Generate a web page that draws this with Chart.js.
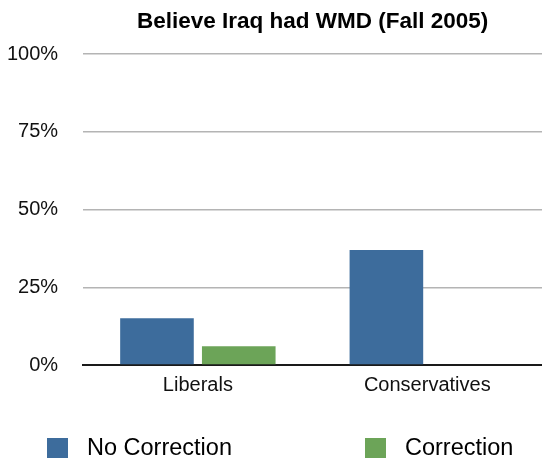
<!DOCTYPE html>
<html>
<head>
<meta charset="utf-8">
<title>Believe Iraq had WMD (Fall 2005)</title>
<script src="https://cdn.jsdelivr.net/npm/chart.js@4/dist/chart.umd.min.js"></script>
<style>
  html, body { margin: 0; padding: 0; background: #fff; }
  #wrap { width: 542px; height: 458px; }
</style>
</head>
<body>
<div id="wrap"><canvas id="wmdChart" width="542" height="458"></canvas></div>
<script>
'use strict';

/* #################### global variables #################### */
let groups = ['Liberals', 'Conservatives'];
let seriesNames = ['No Correction', 'Correction'];
let noCorrection = [15, 37]; //  percent who believe, no correction shown
let correction = [6, 0]; //  percent who believe, after correction
let yTicks = [0, 25, 50, 75, 100];

let seriesColors = ['rgb(61, 108, 156)', 'rgb(108, 164, 88)'];
let fontFamily = '"Liberation Sans", Arial, Helvetica, sans-serif';

/* draws the legend row at the bottom (squares + names) */
let bottomLegend = {
  id: 'bottomLegend',
  afterDraw(chart) {
    let ctx = chart.ctx;
    let xs = [47, 365];
    let midY = 448;
    ctx.save();
    ctx.font = '23.5px ' + fontFamily;
    ctx.textBaseline = 'middle';
    chart.data.datasets.forEach(function(ds, idx) {
      ctx.fillStyle = ds.backgroundColor;
      ctx.fillRect(xs[idx], midY - 10, 21, 20);
      ctx.fillStyle = '#000';
      ctx.fillText(ds.label, xs[idx] + 40, midY + 1);
    });
    ctx.restore();
  }
};

/* #################### chart #################### */
function renderChart() {
  const data = {
    labels: groups,
    datasets: [{
      label: seriesNames[0],
      backgroundColor: seriesColors[0],
      data: noCorrection,
    },
    {
      label: seriesNames[1],
      backgroundColor: seriesColors[1],
      data: correction,
    }]
  };

  const config = {
    type: 'bar',
    data: data,
    plugins: [bottomLegend],
    options: {
      responsive: false,
      animation: false,
      categoryPercentage: 0.713,
      barPercentage: 0.9,
      //  negative left padding pulls the y axis box in so labels sit at the edge
      layout: { padding: { left: -18, right: 0, top: 0, bottom: 53 } },
      plugins: {
        legend: { display: false },
        tooltip: { enabled: false },
        title: {
          display: true,
          text: 'Believe Iraq had WMD (Fall 2005)',
          fullSize: false,
          color: '#000',
          font: { family: fontFamily, size: 22.5, weight: 'bold' },
          padding: { top: 8, bottom: 19 }
        }
      },
      scales: {
        x: {
          grid: { display: false, drawTicks: false },
          border: { display: true, color: '#1a1a1a', width: 2 },
          ticks: {
            color: '#111',
            padding: 8,
            font: { family: fontFamily, size: 20 }
          }
        },
        y: {
          min: yTicks[0],
          max: yTicks[yTicks.length - 1],
          afterBuildTicks: function(scale) {
            scale.ticks = yTicks.map(function(v) { return { value: v }; });
          },
          grid: { color: '#b4b4b4', lineWidth: 1.5, drawTicks: false },
          border: { display: false },
          ticks: {
            color: '#111',
            padding: 25,
            font: { family: fontFamily, size: 20 },
            callback: function(value) { return value + '%'; }
          }
        }
      }
    }
  };

  const wmdChart = new Chart(document.getElementById('wmdChart'), config);
}

renderChart();
</script>
</body>
</html>
